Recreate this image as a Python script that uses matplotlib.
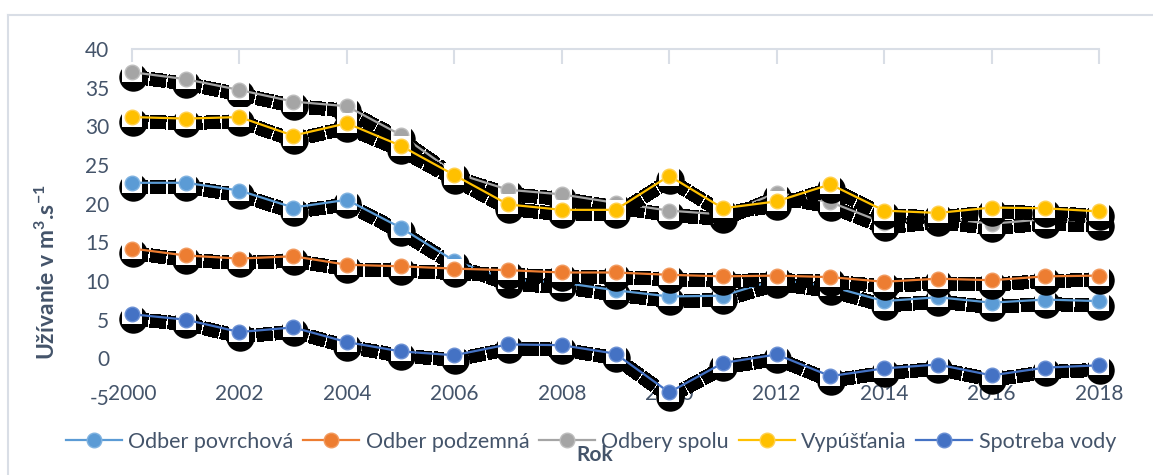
import matplotlib
matplotlib.use("Agg")
import matplotlib.pyplot as plt
from matplotlib.lines import Line2D
from matplotlib.transforms import offset_copy

plt.rcParams['font.family'] = ['Lato', 'DejaVu Sans']
plt.rcParams['mathtext.fontset'] = 'custom'
plt.rcParams['mathtext.rm'] = 'Lato'
plt.rcParams['mathtext.bf'] = 'Lato:bold'
plt.rcParams['lines.scale_dashes'] = False
plt.rcParams['axes.unicode_minus'] = False

years = list(range(2000, 2019))
odber_povrchova = [22.7, 22.7, 21.7, 19.5, 20.5, 16.9, 12.6, 10.2, 9.8, 8.8,
                   8.0, 8.1, 10.2, 9.3, 7.4, 7.9, 7.2, 7.6, 7.4]
odber_podzemna = [14.2, 13.3, 12.9, 13.2, 12.1, 11.9, 11.6, 11.4, 11.1, 11.1,
                  10.8, 10.6, 10.7, 10.5, 9.9, 10.3, 10.1, 10.6, 10.7]
odbery_spolu = [37.0, 36.1, 34.7, 33.2, 32.6, 28.9, 24.0, 21.8, 21.2, 20.1,
                19.1, 18.6, 21.4, 20.2, 17.5, 18.2, 17.4, 18.0, 17.7]
vypustania = [31.2, 31.0, 31.2, 28.8, 30.4, 27.5, 23.7, 19.9, 19.2, 19.2,
              23.6, 19.4, 20.3, 22.5, 19.1, 18.8, 19.5, 19.4, 19.0]
spotreba_vody = [5.7, 5.0, 3.4, 4.0, 2.1, 0.9, 0.4, 1.8, 1.7, 0.6,
                 -4.4, -0.6, 0.5, -2.3, -1.3, -0.8, -2.2, -1.2, -0.9]

names = ['Odber povrchová', 'Odber podzemná', 'Odbery spolu', 'Vypúšťania', 'Spotreba vody']
series = [odber_povrchova, odber_podzemna, odbery_spolu, vypustania, spotreba_vody]
colors = ['#5B9BD5', '#ED7D31', '#A5A5A5', '#FFC000', '#4472C4']
edges = ['#7FB2E0', '#F29A5E', '#BDBDBD', '#FFD04D', '#6A8FD3']

text_col = '#44546A'
grid_col = '#D9DEE6'

fig = plt.figure(figsize=(11.53, 4.75), dpi=100)
W, H = 1153, 475
ax = fig.add_axes([132 / W, 1 - 397 / H, (1099 - 132) / W, (397 - 49) / H])

shadow = offset_copy(ax.transData, fig=fig, x=0.5, y=-4.5, units='dots')

for i, (vals, c, ec) in enumerate(zip(series, colors, edges)):
    z = 3 + i * 4
    # black drop shadow: thick broken line and big discs
    ax.plot(years, vals, color='black', lw=9, dashes=(11, 1.5),
            solid_capstyle='butt', dash_capstyle='butt', antialiased=False,
            transform=shadow, zorder=z, clip_on=False)
    ax.plot(years, vals, 'o', color='black', ms=20.5, mew=0, antialiased=False,
            transform=shadow, zorder=z + 0.5, clip_on=False)
    ax.plot(years, vals, 's', color='white', ms=14, mew=0,
            zorder=z + 1, clip_on=False)
    ax.plot(years, vals, '-', color=c, lw=1.6, zorder=z + 2, clip_on=False)
    ax.plot(years, vals, 'o', color=c, ms=10.5, mec=ec, mew=1,
            zorder=z + 3, clip_on=False)

ax.set_xlim(2000, 2018)
ax.set_ylim(-5, 40)
ax.set_xticks(range(2000, 2019, 2))
ax.set_yticks(range(-5, 41, 5))

for s in ['left', 'right', 'bottom']:
    ax.spines[s].set_visible(False)
ax.spines['top'].set_color(grid_col)
ax.spines['top'].set_linewidth(1.5)

ax.tick_params(axis='x', top=True, bottom=False, labelbottom=True,
               labeltop=False, direction='in', length=11, width=1.5,
               color=grid_col, labelsize=15, labelcolor=text_col, pad=-9)
ax.tick_params(axis='y', left=False, length=0, labelsize=15,
               labelcolor=text_col, pad=16.5)
ax.set_facecolor('none')

fig.text(47 / W, 1 - 272 / H, r'Užívanie v m$\mathbf{^3}$.s$\mathbf{^{-1}}$',
         rotation=90, ha='center', va='center', fontsize=16.5,
         fontweight='bold', color=text_col)
fig.text(595 / W, 1 - 455 / H, 'Rok', ha='center', va='center',
         fontsize=15, fontweight='bold', color=text_col, zorder=5)

handles = [Line2D([], [], color=c, lw=1.6, marker='o', ms=10.5, mec=ec, mew=1)
           for c, ec in zip(colors, edges)]
leg = fig.legend(handles, names, loc='center', bbox_to_anchor=(591 / W, 1 - 442 / H),
                 ncol=5, frameon=False, fontsize=15.5, handlelength=2.6,
                 handletextpad=0.3, columnspacing=0.45, borderaxespad=0)
for t in leg.get_texts():
    t.set_color(text_col)

# outer chart frame
fig.add_artist(Line2D([8 / W, 1], [1 - 15 / H, 1 - 15 / H], color=grid_col, lw=1.5))
fig.add_artist(Line2D([8 / W, 8 / W], [0, 1 - 15 / H], color=grid_col, lw=1.5))

fig.savefig('out.png', dpi=100, facecolor='white')
